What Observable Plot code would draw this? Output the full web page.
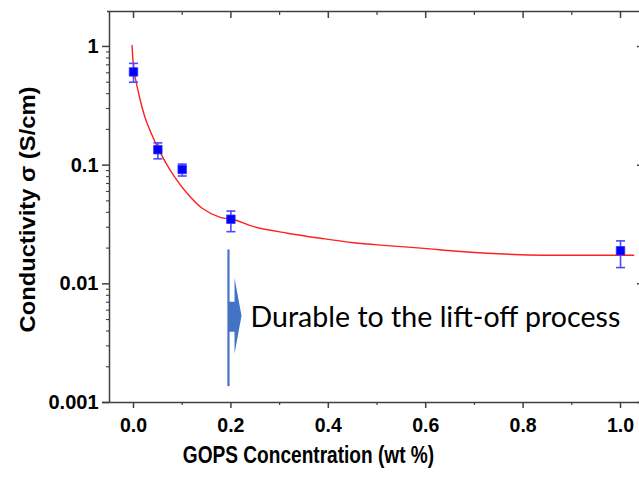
<!DOCTYPE html>
<html>
<head>
<meta charset="utf-8">
<script src="https://cdn.jsdelivr.net/npm/d3@7"></script>
<script src="https://cdn.jsdelivr.net/npm/@observablehq/plot@0.6"></script>
<style>
  html, body { margin: 0; padding: 0; background: #fff; }
  #chart svg { display: block; }
</style>
</head>
<body>
<div id="chart"></div>
<script>
// Measured data
const gops = [0, 0.05, 0.1, 0.2, 1.0];
const sigma = [0.61, 0.135, 0.092, 0.035, 0.019];
const errLow = [0.50, 0.113, 0.081, 0.0275, 0.0137];
const errHigh = [0.72, 0.154, 0.102, 0.041, 0.023];

// Fitted curve
const fitX = [-0.003, 0.001, 0.009, 0.024, 0.052, 0.073, 0.107, 0.141, 0.178, 0.209, 0.247, 0.316, 0.384, 0.452, 0.521, 0.603, 0.658, 0.726, 0.795, 0.863, 0.932, 1.027];
const fitY = [1.02, 0.63, 0.43, 0.25, 0.135, 0.094, 0.060, 0.0433, 0.0363, 0.0345, 0.0303, 0.0267, 0.0242, 0.0222, 0.0210, 0.0198, 0.0189, 0.0181, 0.0176, 0.0174, 0.0174, 0.0174];

// Annotation (arrow + text)
const markerLineX = [0.195];
const markerLineY = [0.0193, 0.00136];
const arrowX = [0.195, 0.2074, 0.2074, 0.2218, 0.2074, 0.2074, 0.195];
const arrowY = [0.00706, 0.00706, 0.0112, 0.00538, 0.00258, 0.00395, 0.00395];
const noteText = ["Durable to the lift-off process"];
const noteX = [0.2402];
const noteY = [0.00518];

// Axes
const xMajor = [0, 0.2, 0.4, 0.6, 0.8, 1.0];
const xMinor = [0.1, 0.3, 0.5, 0.7, 0.9];
const yMajor = [0.001, 0.01, 0.1, 1];
const yMajorLabels = ["0.001", "0.01", "0.1", "1"];
const yMinor = [2,3,4,5,6,7,8,9].flatMap(m => [0.001, 0.01, 0.1, 1].map(d => m * d)).filter(v => v < 1.97);
const xDomain = [-0.0493, 1.0431];
const yDomain = [0.001, 1.97];
const xTitle = "GOPS Concentration (wt %)";
const yTitle = "Conductivity σ (S/cm)";

const points = gops.map((x, i) => ({x, y: sigma[i], lo: errLow[i], hi: errHigh[i]}));
const fit = fitX.map((x, i) => ({x, y: fitY[i]}));
const arrow = arrowX.map((x, i) => ({x, y: arrowY[i]}));

const capSymbol = { draw(ctx, size) { ctx.moveTo(-4.5, 0); ctx.lineTo(4.5, 0); } };
const axisColor = "#404040";
const FONT = "Liberation Sans, Arial, sans-serif";

const chart = Plot.plot({
  width: 639,
  height: 477,
  marginLeft: 109,
  marginRight: -2,
  marginTop: 11,
  marginBottom: 75,
  style: { fontFamily: FONT, background: "white", overflow: "hidden" },
  x: { domain: xDomain, axis: null },
  y: { type: "log", domain: yDomain, axis: null },
  marks: [
    // frame lines
    Plot.ruleX([xDomain[0]], { stroke: axisColor, strokeWidth: 1.5 }),
    Plot.ruleY([yDomain[0]], { stroke: axisColor, strokeWidth: 1.5, insetLeft: -7 }),
    Plot.ruleY([yDomain[1]], { stroke: axisColor, strokeWidth: 1.5, insetLeft: -2 }),
    Plot.ruleX([xDomain[1]], { stroke: axisColor, strokeWidth: 1.5 }),
    // bottom axis
    Plot.axisX({ anchor: "bottom", ticks: xMajor, tickSize: 6, tickPadding: 9, tickFormat: d => d.toFixed(1),
      fontSize: 21, fontWeight: "bold", fill: "black", stroke: axisColor, strokeWidth: 1.5, label: null, className: "xticklab" }),
    Plot.axisX({ anchor: "bottom", ticks: xMinor, tickSize: 3, text: null, stroke: axisColor, strokeWidth: 1.2, label: null }),
    // top inward ticks
    Plot.ruleX(xMajor, { stroke: axisColor, strokeWidth: 1.5, insetBottom: 384 }),
    Plot.ruleX(xMinor, { stroke: axisColor, strokeWidth: 1.2, insetBottom: 387 }),
    // left axis
    Plot.axisY({ anchor: "left", ticks: yMajor, tickSize: 7, tickPadding: 4, tickFormat: d => yMajorLabels[yMajor.indexOf(d)],
      fontSize: 20, fontWeight: "bold", fill: "black", stroke: axisColor, strokeWidth: 1.5, label: null, className: "yticklab" }),
    Plot.axisY({ anchor: "left", ticks: yMinor, tickSize: 3, text: null, stroke: axisColor, strokeWidth: 1.1, label: null }),
    // right inward ticks (frame edge lies just outside the picture)
    Plot.ruleY(yMajor, { stroke: axisColor, strokeWidth: 1.5, insetLeft: 528 }),
    // axis titles
    Plot.text([xTitle], { frameAnchor: "bottom", dx: -67, dy: 60, text: d => d, fontSize: 23, fontWeight: "bold", fill: "black", className: "xtitle" }),
    Plot.text([yTitle], { frameAnchor: "left", dx: -82, dy: 2.5, rotate: -90, textAnchor: "middle", text: d => d, fontSize: 22, fontWeight: "bold", fill: "black", className: "ytitle" }),
    // fit curve
    Plot.line(fit, { x: "x", y: "y", stroke: "#ff2020", strokeWidth: 1.4, curve: "catmull-rom" }),
    // error bars
    Plot.ruleX(points, { x: "x", y1: "lo", y2: "hi", stroke: "#4a4aff", strokeWidth: 1.6 }),
    Plot.dot(points, { x: "x", y: "lo", symbol: capSymbol, stroke: "#4a4aff", strokeWidth: 1.6, r: 4 }),
    Plot.dot(points, { x: "x", y: "hi", symbol: capSymbol, stroke: "#4a4aff", strokeWidth: 1.6, r: 4 }),
    Plot.dot(points, { x: "x", y: "y", symbol: "square", r: 4.8, fill: "#0000ff", stroke: "#3333ff", strokeWidth: 0.8 }),
    // annotation
    Plot.ruleX(markerLineX, { y1: markerLineY[0], y2: markerLineY[1], stroke: "#4472c4", strokeWidth: 2.2 }),
    Plot.line(arrow, { x: "x", y: "y", fill: "#4472c4", stroke: "none" }),
    Plot.text(noteText, { x: noteX, y: noteY, text: d => d, textAnchor: "start", fontFamily: "Lato, Carlito, sans-serif", fontSize: 28, fill: "black", className: "note" })
  ]
});
document.getElementById("chart").appendChild(chart);

// Horizontal stretch of text to match the picture's glyph proportions
function stretch(cls, factor) {
  chart.querySelectorAll("." + cls + " text").forEach(t => {
    const w = t.getComputedTextLength();
    if (w > 0) {
      t.setAttribute("textLength", (w * factor).toFixed(2));
      t.setAttribute("lengthAdjust", "spacingAndGlyphs");
    }
  });
}
stretch("xticklab", 0.93);
stretch("yticklab", 1.0);
stretch("xtitle", 0.83);
stretch("ytitle", 1.08);
stretch("note", 1.02);
</script>
</body>
</html>
